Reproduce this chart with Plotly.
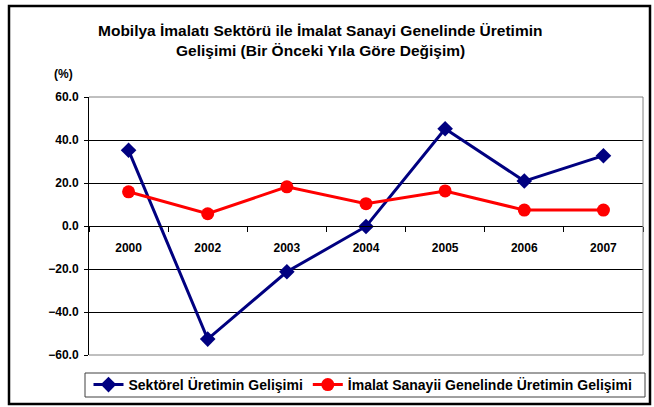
import plotly.graph_objects as go

years = ["2000", "2002", "2003", "2004", "2005", "2006", "2007"]
sektorel = [35.2, -52.6, -21.3, -0.2, 45.2, 20.9, 32.7]
imalat = [15.9, 5.7, 18.2, 10.4, 16.3, 7.4, 7.4]
y_ticks = [-60, -40, -20, 0, 20, 40, 60]
name_a = "Sektörel Üretimin Gelişimi"
name_b = "İmalat Sanayii Genelinde Üretimin Gelişimi"
title_1 = "Mobilya İmalatı Sektörü ile İmalat Sanayi Genelinde Üretimin"
title_2 = "Gelişimi (Bir Önceki Yıla Göre Değişim)"

W, H = 654, 407
# plot area in window pixels
PL, PR, PT, PB = 89, 643, 97, 355
L, T, R, B = PL, PT, W - PR, H - PB
pw, ph = PR - PL, PB - PT

def px(x):
    return (x - PL) / pw

def py(y):
    return (PB - y) / ph

FONT = "Liberation Sans, Arial, sans-serif"

fig = go.Figure()
fig.add_trace(go.Scatter(
    x=years, y=sektorel, name=name_a, mode="lines+markers",
    line=dict(color="#000080", width=3),
    marker=dict(symbol="diamond", size=12, color="#000080"),
))
fig.add_trace(go.Scatter(
    x=years, y=imalat, name=name_b, mode="lines+markers",
    line=dict(color="#FF0000", width=3),
    marker=dict(symbol="circle", size=13, color="#FF0000"),
))

fig.update_layout(
    width=W, height=H,
    margin=dict(l=L, r=R, t=T, b=B, pad=0, autoexpand=False),
    paper_bgcolor="white", plot_bgcolor="white",
    font=dict(family=FONT, color="black"),
    showlegend=True,
    legend=dict(
        orientation="h", x=px(363), xanchor="center", y=py(385), yanchor="middle",
        font=dict(size=14, family=FONT, color="black", weight="bold"),
        bgcolor="rgba(0,0,0,0)", borderwidth=0, itemwidth=30,
        tracegroupgap=0,
    ),
    xaxis=dict(
        type="category", anchor="free", position=0.5, automargin=False,
        showline=True, linecolor="black", linewidth=1,
        ticks="outside", ticklen=5, tickcolor="black", tickson="boundaries",
        showgrid=False, zeroline=False,
        tickfont=dict(size=12, family=FONT, color="black", weight="bold"),
        ticklabelstandoff=11,
        range=[-0.5, 6.5],
    ),
    yaxis=dict(
        range=[-60, 60], tickvals=y_ticks, tickformat=".1f", automargin=False,
        showline=True, linecolor="black", linewidth=1,
        ticks="outside", ticklen=4, tickcolor="black",
        showgrid=True, gridcolor="black", gridwidth=1,
        zeroline=True, zerolinecolor="black", zerolinewidth=1,
        tickfont=dict(size=12, family=FONT, color="black", weight="bold"),
        ticklabelstandoff=3,
    ),
    annotations=[
        dict(text="<b>" + title_1 + "</b>", xref="paper", yref="paper",
             x=px(320), y=py(30), xanchor="center", yanchor="middle",
             showarrow=False, font=dict(size=15.5, family=FONT, color="black")),
        dict(text="<b>" + title_2 + "</b>", xref="paper", yref="paper",
             x=px(320), y=py(51), xanchor="center", yanchor="middle",
             showarrow=False, font=dict(size=15.5, family=FONT, color="black")),
        dict(text="<b>(%)</b>", xref="paper", yref="paper",
             x=px(63), y=py(74), xanchor="center", yanchor="middle",
             showarrow=False, font=dict(size=12, family=FONT, color="black")),
    ],
    shapes=[
        dict(type="line", xref="paper", yref="paper", x0=0, x1=1, y0=1, y1=1,
             line=dict(color="#808080", width=1), layer="above"),
        dict(type="line", xref="paper", yref="paper", x0=1, x1=1, y0=0, y1=1,
             line=dict(color="#808080", width=1), layer="above"),
        dict(type="line", xref="paper", yref="paper", x0=0, x1=1, y0=0, y1=0,
             line=dict(color="#808080", width=1), layer="above"),
        dict(type="rect", xref="paper", yref="paper",
             x0=px(85), x1=px(645), y0=py(397), y1=py(373),
             line=dict(color="#404040", width=1)),
        dict(type="rect", xref="paper", yref="paper",
             x0=px(9), x1=px(650), y0=py(404), y1=py(6),
             line=dict(color="black", width=2.5)),
    ],
)

fig.write_html(
    "out.html",
    config={"displayModeBar": False},
    post_script="document.body.style.margin='0';document.body.style.overflow='hidden';",
)
